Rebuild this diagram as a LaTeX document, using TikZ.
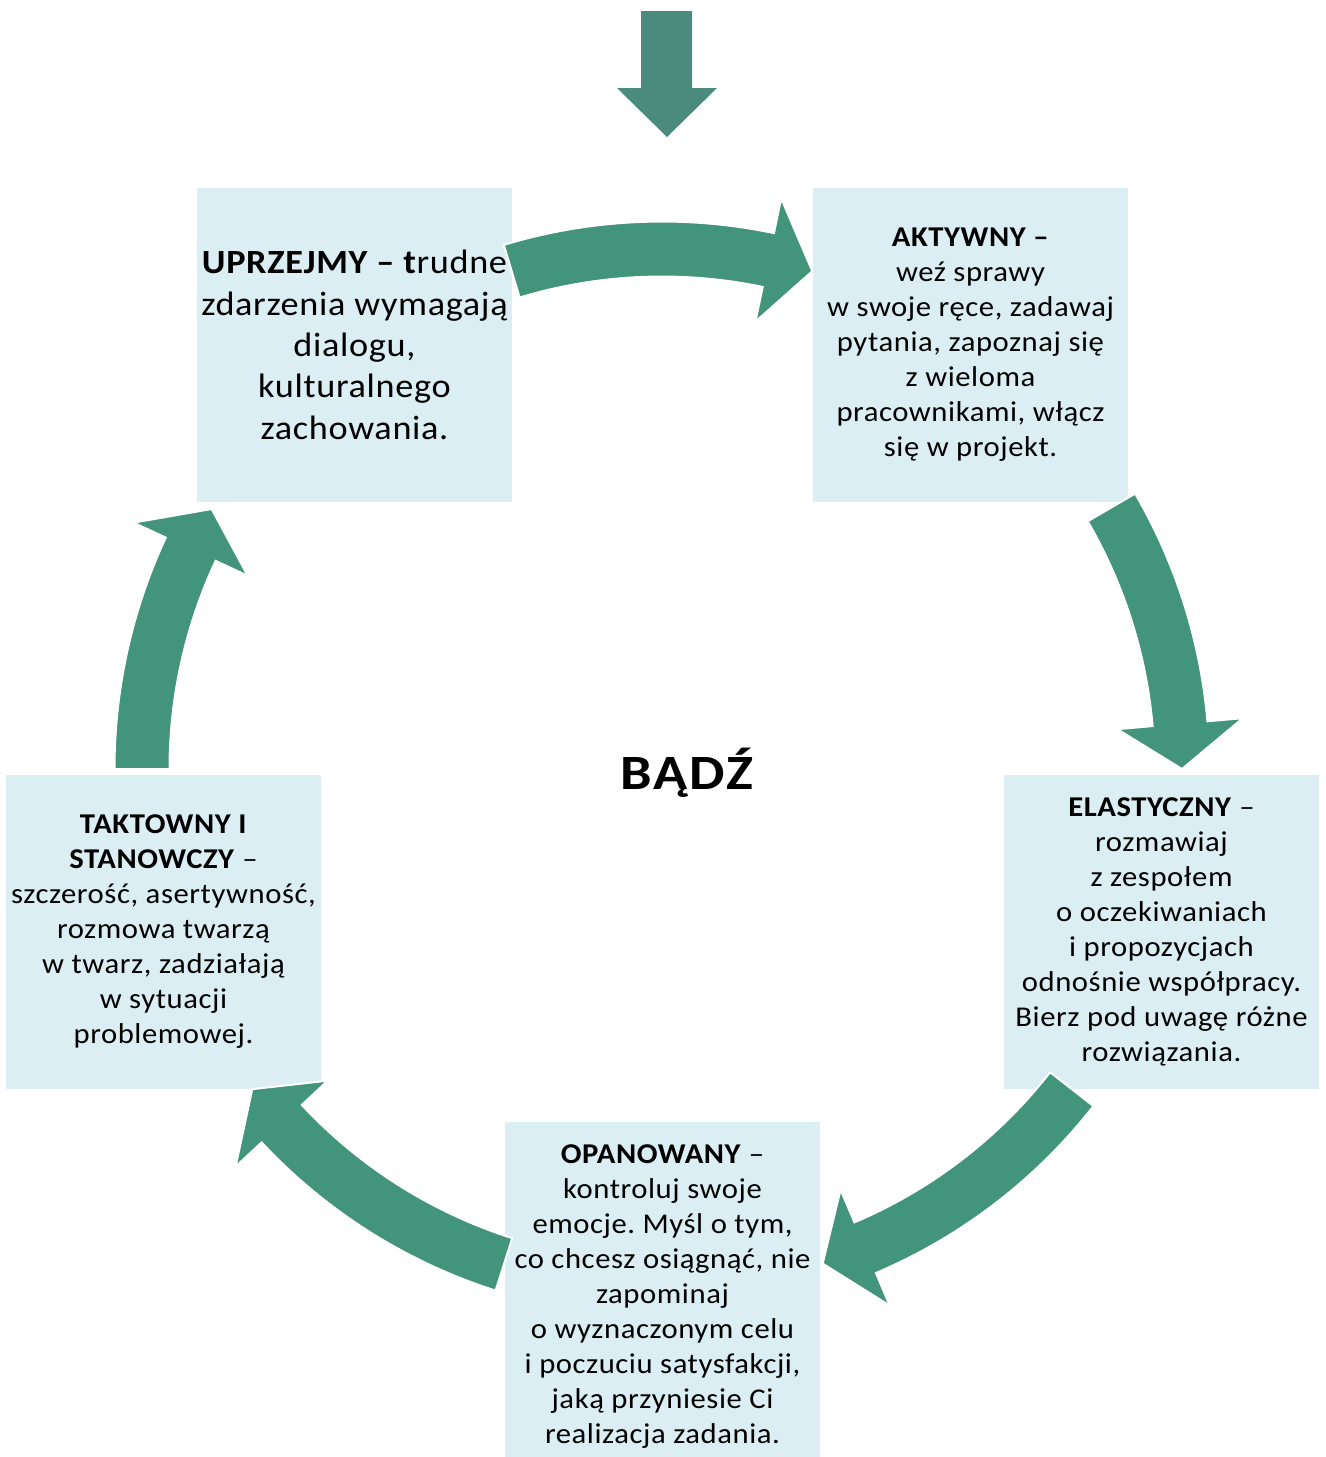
\documentclass[tikz,border=0pt]{standalone}
\usepackage{fontspec}
\setmainfont[FakeStretch=1.07,LetterSpace=2]{Carlito}
\newfontfamily\titrefont[FakeStretch=1.14,LetterSpace=4]{Carlito}
\frenchspacing
\usetikzlibrary{calc}
\definecolor{vertcycle}{HTML}{42947A}
\definecolor{verthaut}{HTML}{4A8B7E}
\definecolor{bleuboite}{HTML}{DBEEF3}
\tikzset{
  boite/.style={fill=bleuboite, inner sep=0pt, minimum width=236.25pt, minimum height=235.5pt,
    align=center, font=\fontsize{21.5}{26.25}\selectfont},
  fleche/.style={fill=vertcycle, draw=white, line width=1.5pt, line join=miter},
}
\begin{document}
\begin{tikzpicture}[x=0.75pt,y=-0.75pt]
	%cadre (pixels)
	\useasboundingbox (0,0) rectangle (1326,1457);
	%centre du cycle
	\coordinate (O) at (662,769);
	%BOITES
	\node[boite, font=\fontsize{25.4}{31}\selectfont] (uprz) at (354.5,345)
		{\textbf{UPRZEJMY – t}rudne\\zdarzenia wymagają\\dialogu,\\kulturalnego\\zachowania.};
	\node[boite] (akt) at (970.5,345)
		{\textbf{AKTYWNY –}\\weź sprawy\\w swoje ręce, zadawaj\\pytania, zapoznaj się\\z wieloma\\pracownikami, włącz\\się w projekt.};
	\node[boite] (elas) at (1161.5,932)
		{\textbf{ELASTYCZNY} –\\rozmawiaj\\z zespołem\\o oczekiwaniach\\i propozycjach\\odnośnie współpracy.\\Bierz pod uwagę różne\\rozwiązania.};
	\node[boite, minimum height=261.75pt] (opan) at (662.5,1296.5)
		{\textbf{OPANOWANY} –\\kontroluj swoje\\emocje. Myśl o tym,\\co chcesz osiągnąć, nie\\zapominaj\\o wyznaczonym celu\\i poczuciu satysfakcji,\\jaką przyniesie Ci\\realizacja zadania.};
	\node[boite] (takt) at (163.5,932)
		{\textbf{TAKTOWNY I}\\\textbf{STANOWCZY} –\\szczerość, asertywność,\\rozmowa twarzą\\w twarz, zadziałają\\w sytuacji\\problemowej.};
	%centre
	\node[anchor=base, font=\fontsize{37}{43}\titrefont\bfseries] (badz) at (687,789) {BĄDŹ};
	%FLECHE D'ENTREE
	\fill[verthaut] (641,11) -- (692,11) -- (692,88) -- (717,88) -- (667,137) -- (617,88) -- (641,88) -- cycle;
	%FLECHES DU CYCLE (queue/pointe)
	\foreach \dep/\pt in {-106.8/-73.2, -30.2/0, 38/72, 107.7/142, -180/-150}
	{
		\pgfmathsetmacro{\bas}{\pt-5}
		\draw[fleche, shift={(O)}] (\dep:547.5) arc[start angle=\dep, end angle=\bas, radius=547.5]
			-- (\bas:583) -- (\pt:520) -- (\bas:457) -- (\bas:492.5)
			arc[start angle=\bas, end angle=\dep, radius=492.5] -- cycle;
	}
\end{tikzpicture}
\end{document}
